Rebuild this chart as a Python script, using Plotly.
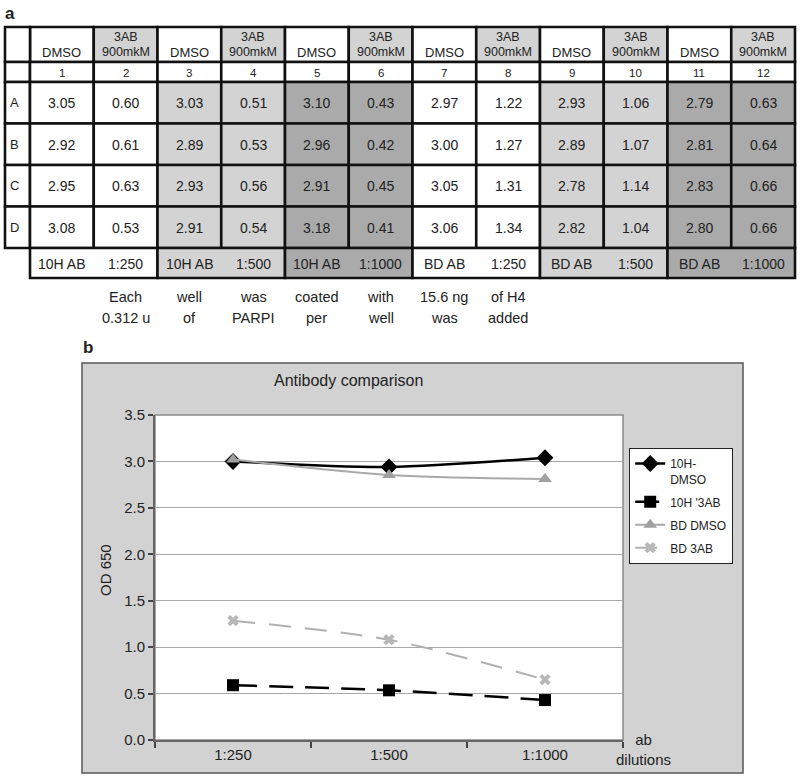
import plotly.graph_objects as go

W, H = 800, 781
FONT = "Liberation Sans, Arial, Helvetica, sans-serif"
TXT = "#222222"

# ---------------- Table data (panel a) ----------------
treatments = [("DMSO",), ("3AB", "900mkM")] * 6
well_numbers = [str(i) for i in range(1, 13)]
row_labels = ["A", "B", "C", "D"]
od_row_A = [3.05, 0.60, 3.03, 0.51, 3.10, 0.43, 2.97, 1.22, 2.93, 1.06, 2.79, 0.63]
od_row_B = [2.92, 0.61, 2.89, 0.53, 2.96, 0.42, 3.00, 1.27, 2.89, 1.07, 2.81, 0.64]
od_row_C = [2.95, 0.63, 2.93, 0.56, 2.91, 0.45, 3.05, 1.31, 2.78, 1.14, 2.83, 0.66]
od_row_D = [3.08, 0.53, 2.91, 0.54, 3.18, 0.41, 3.06, 1.34, 2.82, 1.04, 2.80, 0.66]
od_rows = [od_row_A, od_row_B, od_row_C, od_row_D]
antibody_labels = ["10H AB", "10H AB", "10H AB", "BD AB", "BD AB", "BD AB"]
dilution_labels = ["1:250", "1:500", "1:1000", "1:250", "1:500", "1:1000"]
note_top = ["Each", "well", "was", "coated", "with", "15.6 ng", "of H4"]
note_bottom = ["0.312 u", "of", "PARPI", "per", "well", "was", "added"]

# ---------------- Chart data (panel b) ----------------
dilutions = ["1:250", "1:500", "1:1000"]
h10_dmso = [3.00, 2.94, 3.04]
h10_3ab = [0.59, 0.535, 0.43]
bd_dmso = [3.02, 2.855, 2.81]
bd_3ab = [1.285, 1.08, 0.65]

# ---------------- layout helpers ----------------
def X(px):
    return px / W

def Y(py):
    return 1 - py / H

shapes = []
annotations = []

def rect(x0, y0, x1, y1, fill=None, line=None, lw=0):
    d = dict(type="rect", xref="paper", yref="paper",
             x0=X(x0), x1=X(x1), y0=Y(y1), y1=Y(y0), layer="below",
             line=dict(width=lw, color=line or "rgba(0,0,0,0)"))
    if fill:
        d["fillcolor"] = fill
    shapes.append(d)

def text(x, y, s, size, xanchor="center", yanchor="middle", bold=False, angle=0):
    annotations.append(dict(
        x=X(x), y=Y(y), xref="paper", yref="paper", text=f"<b>{s}</b>" if bold else s,
        showarrow=False, xanchor=xanchor, yanchor=yanchor, textangle=angle,
        font=dict(family=FONT, size=size, color=TXT)))

# table geometry
LEFT = 5
COLW = (795 - 30) / 12
col_x0 = [30 + COLW * j for j in range(12)]
row_edges = [27, 62, 82, 123.5, 165, 206.5, 248]
FOOT_BOT = 278
BORDER = "#111111"
LW = 2.6
LIGHT = "#d3d3d3"
DARK = "#aaaaaa"
group_fill = ["#ffffff", LIGHT, DARK, "#ffffff", LIGHT, DARK]

# header row
for j in range(12):
    fill = LIGHT if len(treatments[j]) > 1 else "#ffffff"
    rect(col_x0[j], row_edges[0], col_x0[j] + COLW, row_edges[1], fill=fill, line=BORDER, lw=LW)
    cx = col_x0[j] + COLW / 2
    if len(treatments[j]) > 1:
        text(cx, 37, treatments[j][0], 12.5)
        text(cx, 52, treatments[j][1], 12.5)
    else:
        text(cx, 53, treatments[j][0], 13)
rect(LEFT, row_edges[0], 30, row_edges[1], fill="#ffffff", line=BORDER, lw=LW)

# number row
rect(LEFT, row_edges[1], 30, row_edges[2], fill="#ffffff", line=BORDER, lw=LW)
for j in range(12):
    rect(col_x0[j], row_edges[1], col_x0[j] + COLW, row_edges[2], fill="#ffffff", line=BORDER, lw=LW)
    text(col_x0[j] + COLW / 2, 72.5, well_numbers[j], 11.5)

# data rows
for i, vals in enumerate(od_rows):
    y0, y1 = row_edges[2 + i], row_edges[3 + i]
    rect(LEFT, y0, 30, y1, fill="#ffffff", line=BORDER, lw=LW)
    text(8, (y0 + y1) / 2, row_labels[i], 13, xanchor="left")
    for j in range(12):
        rect(col_x0[j], y0, col_x0[j] + COLW, y1, fill=group_fill[j // 2], line=BORDER, lw=LW)
        text(col_x0[j] + COLW / 2, (y0 + y1) / 2 + 0.5, f"{vals[j]:.2f}", 14)

# footer row
for g in range(6):
    gx0 = col_x0[2 * g]
    rect(gx0, row_edges[-1], gx0 + 2 * COLW, FOOT_BOT, fill=group_fill[g], line=BORDER, lw=LW)
    text(gx0 + COLW / 2, 263.5, antibody_labels[g], 14)
    text(gx0 + 1.5 * COLW, 263.5, dilution_labels[g], 14)

# notes under the table (columns 2..8)
for k in range(len(note_top)):
    cx = col_x0[k + 1] + COLW / 2
    text(cx, 297, note_top[k], 14.5)
    text(cx, 318, note_bottom[k], 14.5)

text(10, 13, "a", 17, bold=True)
text(88, 347, "b", 17, bold=True)

# chart panel (gray) and plot-area frame
rect(82, 363, 743, 773, fill="#d2d2d2", line="#555555", lw=1.5)
shapes.append(dict(type="rect", xref="x domain", yref="y domain", x0=0, x1=1, y0=0, y1=1,
                   fillcolor="#ffffff", line=dict(color="#8a8a8a", width=1.5), layer="below"))

text(348, 380, "Antibody comparison", 16)
text(105, 570, "OD 650", 15, angle=-90)
text(643, 749, "ab<br>dilutions", 15)

fig = go.Figure()

fig.add_trace(go.Scatter(
    x=dilutions, y=h10_dmso, name="10H-<br>DMSO", mode="lines+markers", legendgroup="g1",
    line=dict(color="#000000", width=2.5, shape="spline", smoothing=0.8),
    marker=dict(symbol="diamond", size=13, color="#000000")))
fig.add_trace(go.Scatter(
    x=dilutions, y=h10_3ab, name="10H '3AB", mode="lines+markers", legendgroup="g2",
    line=dict(color="#000000", width=2.5, dash="24px,12px", shape="spline", smoothing=0.8),
    marker=dict(symbol="square", size=12, color="#000000")))
fig.add_trace(go.Scatter(
    x=dilutions, y=bd_dmso, name="BD DMSO", mode="lines+markers", legendgroup="g3",
    line=dict(color="#a9a9a9", width=2, shape="spline", smoothing=0.8),
    marker=dict(symbol="triangle-up", size=12, color="#a0a0a0")))
fig.add_trace(go.Scatter(
    x=dilutions, y=bd_3ab, name="BD 3AB", mode="lines+markers", legendgroup="g4",
    line=dict(color="#b0b0b0", width=2, dash="22px,14px", shape="spline", smoothing=0.8),
    marker=dict(symbol="x", size=10, color="#b8b8b8")))

fig.update_layout(
    width=W, height=H, autosize=False,
    margin=dict(l=0, r=0, t=0, b=0, autoexpand=False),
    paper_bgcolor="#ffffff", plot_bgcolor="rgba(0,0,0,0)",
    font=dict(family=FONT, color=TXT),
    shapes=shapes, annotations=annotations,
    showlegend=True,
    legend=dict(x=X(629), y=Y(448), xanchor="left", yanchor="top",
                bgcolor="#ffffff", bordercolor="#222222", borderwidth=1.2,
                font=dict(family=FONT, size=12, color=TXT),
                tracegroupgap=4, valign="top", itemwidth=30),
    xaxis=dict(domain=[X(155), X(623)], type="category", range=[-0.5, 2.5],
               tickson="boundaries", ticks="outside", ticklen=6, tickwidth=1.5, tickcolor="#444",
               showline=True, linecolor="#666666", linewidth=2, showgrid=False, zeroline=False,
               tickfont=dict(family=FONT, size=15, color=TXT), fixedrange=True),
    yaxis=dict(domain=[Y(740), Y(415)], range=[0, 3.5], dtick=0.5, tickformat=".1f",
               ticks="outside", ticklen=5, tickwidth=1.5, tickcolor="#444",
               showline=True, linecolor="#666666", linewidth=2,
               showgrid=True, gridcolor="#a8a8a8", gridwidth=1.3, zeroline=False,
               tickfont=dict(family=FONT, size=15, color=TXT), fixedrange=True),
)

fig.write_html("out.html", config={"displayModeBar": False},
               post_script="document.body.style.margin='0';document.body.style.overflow='hidden';")
